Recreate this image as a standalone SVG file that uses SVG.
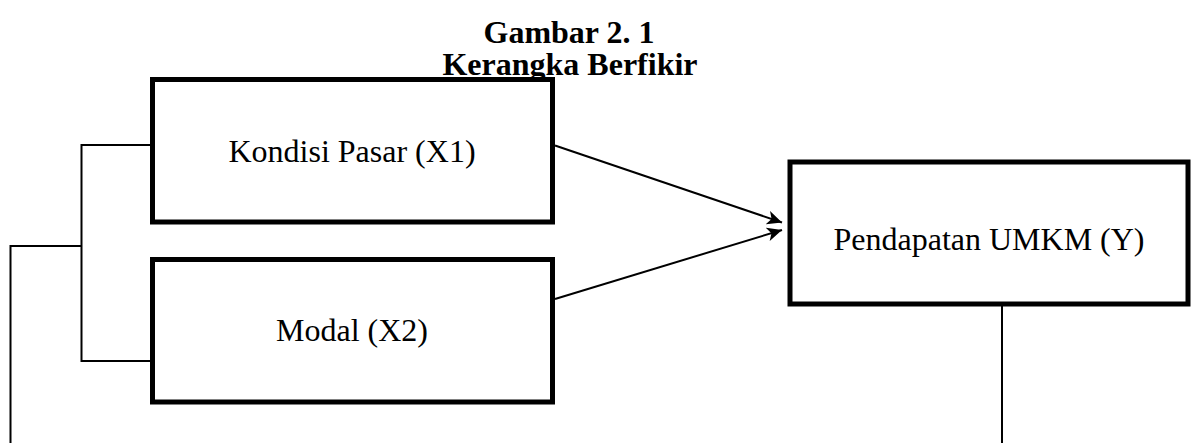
<svg xmlns="http://www.w3.org/2000/svg" width="1191" height="443" viewBox="0 0 1191 443">
<style>
.box{fill:#fff;stroke:#000;stroke-width:5}
.lbl{font-family:"Liberation Serif","Times New Roman",serif;font-size:32px;fill:#000;text-anchor:middle}
.ttl{font-family:"Liberation Serif","Times New Roman",serif;font-size:32px;font-weight:bold;fill:#000;text-anchor:middle}
.ln{fill:none;stroke:#000;stroke-width:2}
</style>
<defs>
<marker id="ah" markerWidth="16" markerHeight="14" refX="15" refY="7" orient="auto" markerUnits="userSpaceOnUse">
<path d="M0,0 L15,7 L0,14 L4,7 Z" fill="#000"/>
</marker>
</defs>
<rect width="1191" height="443" fill="#fff"/>
<g id="title">
<text class="ttl" x="569" y="43">Gambar 2. 1</text>
<text class="ttl" x="570" y="75">Kerangka Berfikir</text>
</g>
<g id="connectors">
<polyline class="ln" points="152,145 81.5,145 81.5,361 152,361"/>
<polyline class="ln" points="81.5,246 10.5,246 10.5,443"/>
<line class="ln" x1="1002" y1="306" x2="1002" y2="443"/>
<line class="ln" x1="555" y1="145.5" x2="782" y2="222.5" marker-end="url(#ah)"/>
<line class="ln" x1="555" y1="299" x2="782" y2="230" marker-end="url(#ah)"/>
</g>
<g id="node-x1">
<rect class="box" x="152.5" y="79.5" width="400" height="142.5"/>
<text class="lbl" x="352" y="162">Kondisi Pasar (X1)</text>
</g>
<g id="node-x2">
<rect class="box" x="152.5" y="259.5" width="400" height="142.5"/>
<text class="lbl" x="352" y="341">Modal (X2)</text>
</g>
<g id="node-y">
<rect class="box" x="790" y="162" width="398" height="142"/>
<text class="lbl" x="989" y="250">Pendapatan UMKM (Y)</text>
</g>
</svg>
